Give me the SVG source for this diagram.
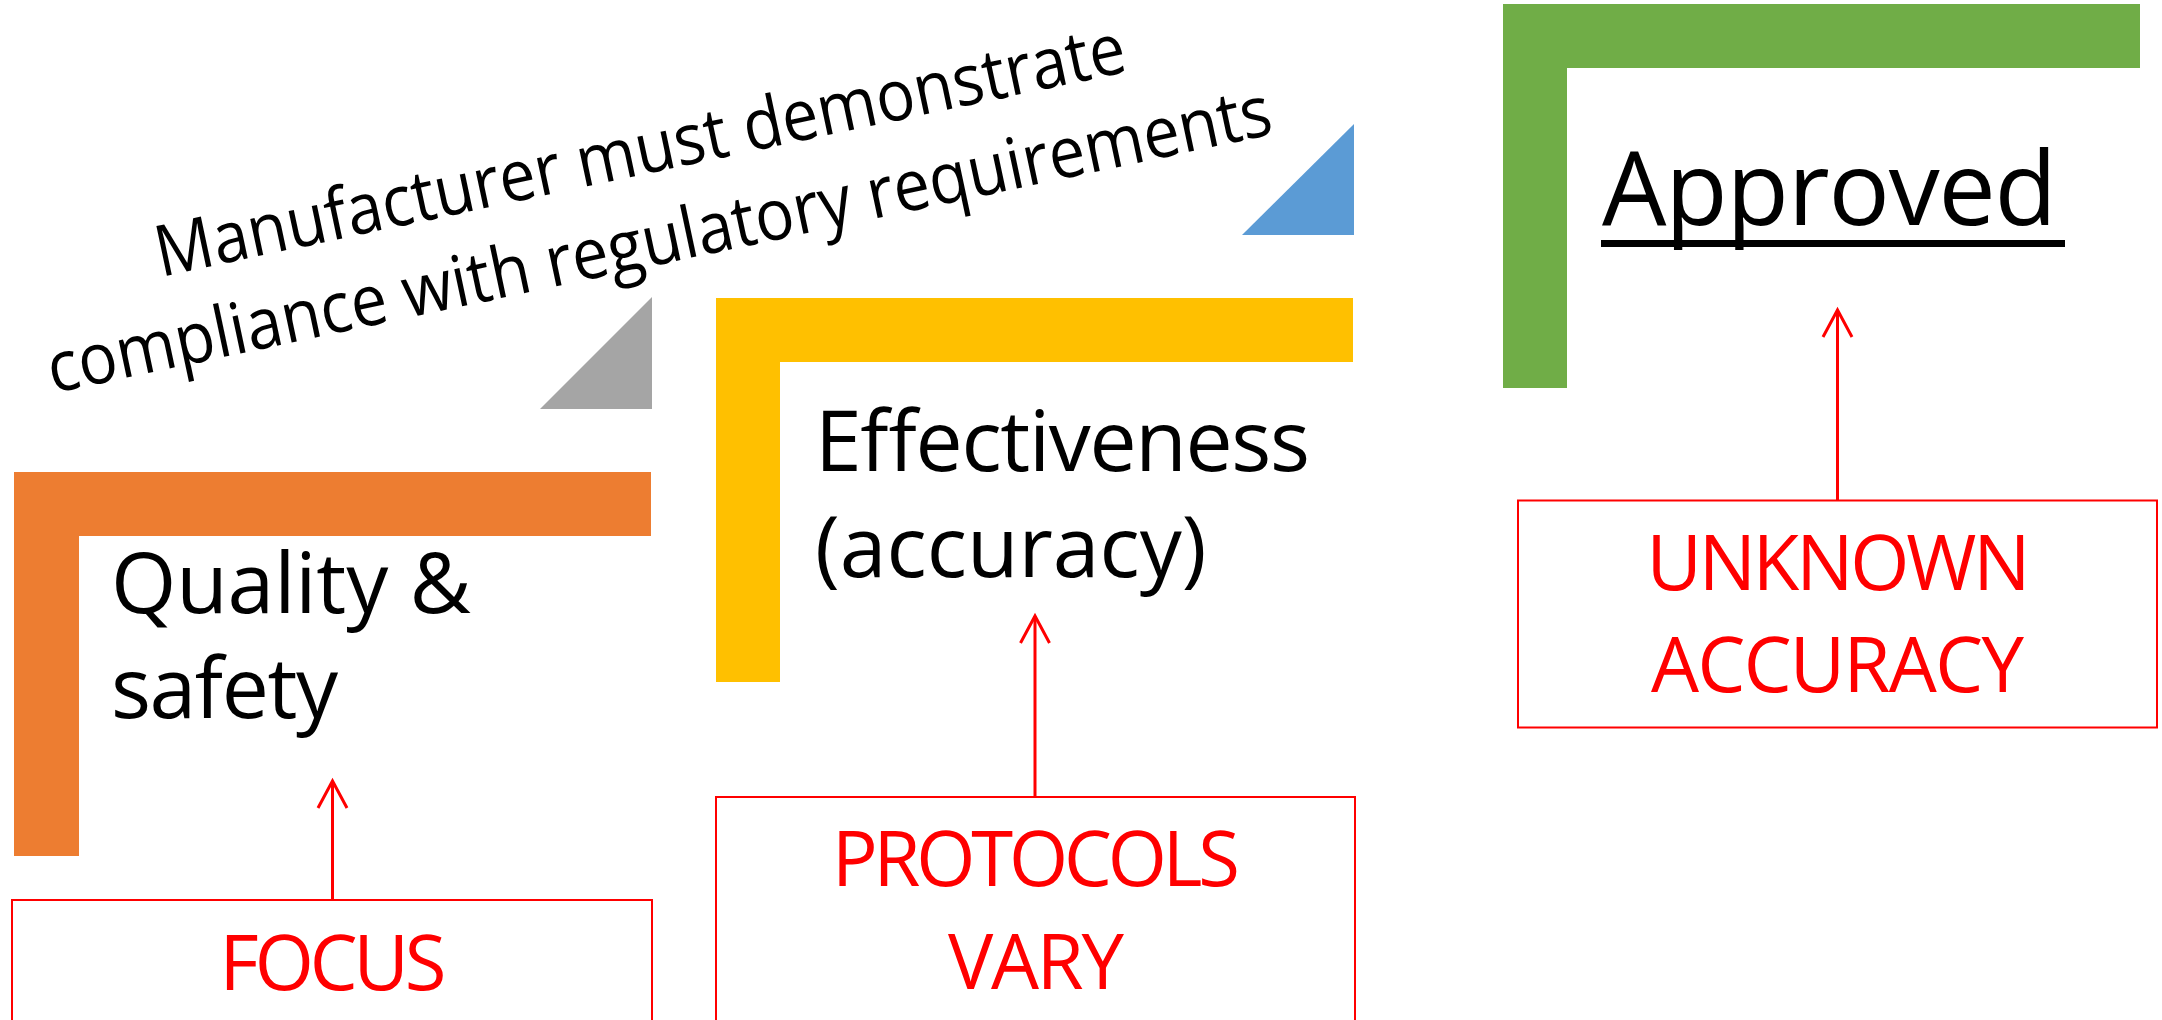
<svg xmlns="http://www.w3.org/2000/svg" width="2162" height="1020" viewBox="0 0 2162 1020">
<style>
.lbl{font-family:"Open Sans","Noto Sans","Liberation Sans",sans-serif;fill:#000;}
.red{font-family:"Open Sans","Noto Sans","Liberation Sans",sans-serif;fill:#FF0000;font-size:76px;text-anchor:middle;}
.box{fill:none;stroke:#FF0000;stroke-width:2;}
.conn{stroke:#FF0000;stroke-width:3;fill:none;}
</style>
<defs>
<marker id="openV" markerUnits="userSpaceOnUse" markerWidth="40" markerHeight="40" refX="0" refY="0" orient="auto" overflow="visible">
<path d="M-27,-14.5 L0,0 L-27,14.5" fill="none" stroke="#FF0000" stroke-width="3"/>
</marker>
</defs>
<rect width="2162" height="1020" fill="#FFFFFF"/>

<g id="heading">
<g transform="translate(645,174) rotate(-12)">
<text class="lbl" x="0" y="0" font-size="71" text-anchor="middle" textLength="990" lengthAdjust="spacingAndGlyphs">Manufacturer must demonstrate</text>
<text class="lbl" x="0" y="91.5" font-size="71" text-anchor="middle" textLength="1250" lengthAdjust="spacingAndGlyphs">compliance with regulatory requirements</text>
</g>
</g>

<g id="step-grey">
<polygon points="652,297 540,409 652,409" fill="#A5A5A5"/>
</g>
<g id="step-blue">
<polygon points="1354,124 1242,235 1354,235" fill="#5B9BD5"/>
</g>

<g id="quality-safety">
<path d="M14,472 H651 V536 H79 V856 H14 Z" fill="#ED7D31"/>
<text class="lbl" x="111" y="613" font-size="84" textLength="360">Quality &amp;</text>
<text class="lbl" x="111" y="718" font-size="84" textLength="227">safety</text>
</g>

<g id="effectiveness">
<path d="M716,298 H1353 V362 H780 V682 H716 Z" fill="#FFC000"/>
<text class="lbl" x="815" y="471" font-size="84" textLength="495">Effectiveness</text>
<text class="lbl" x="815" y="577" font-size="84">(accuracy)</text>
</g>

<g id="approved">
<path d="M1503,4 H2140 V68 H1567 V388 H1503 Z" fill="#70AD47"/>
<text class="lbl" x="1602" y="225" font-size="102" textLength="455">Approved</text>
<rect x="1601" y="240" width="464" height="7" fill="#000"/>
</g>

<g id="focus">
<rect class="box" x="12" y="900" width="640" height="140"/>
<text class="red" x="333" y="990" textLength="227">FOCUS</text>
</g>

<g id="protocols-vary">
<rect class="box" x="716" y="797" width="639" height="240"/>
<text class="red" x="1036" y="886" textLength="408">PROTOCOLS</text>
<text class="red" x="1036" y="989" textLength="176">VARY</text>
</g>

<g id="unknown-accuracy">
<rect class="box" x="1518" y="500.5" width="639" height="227"/>
<text class="red" x="1838.5" y="590" textLength="384">UNKNOWN</text>
<text class="red" x="1837.5" y="692" textLength="373">ACCURACY</text>
</g>

<g id="connectors">
<line class="conn" x1="332.5" y1="900" x2="332.5" y2="781" marker-end="url(#openV)"/>
<line class="conn" x1="1035" y1="797" x2="1035" y2="616" marker-end="url(#openV)"/>
<line class="conn" x1="1837.5" y1="500.5" x2="1837.5" y2="310" marker-end="url(#openV)"/>
</g>
</svg>
